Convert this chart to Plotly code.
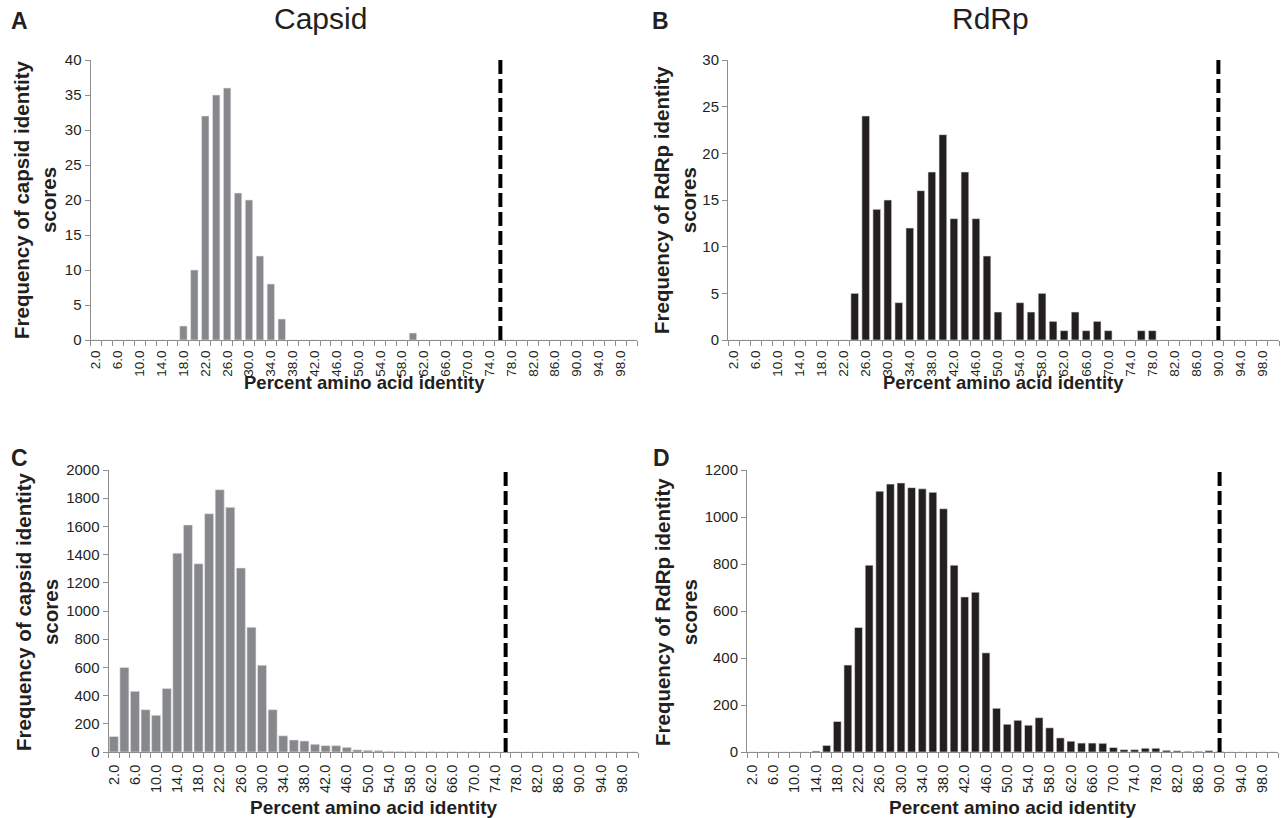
import plotly.graph_objects as go

# ---------------- data ----------------
identity_bins = [2.0, 4.0, 6.0, 8.0, 10.0, 12.0, 14.0, 16.0, 18.0, 20.0,
                 22.0, 24.0, 26.0, 28.0, 30.0, 32.0, 34.0, 36.0, 38.0, 40.0,
                 42.0, 44.0, 46.0, 48.0, 50.0, 52.0, 54.0, 56.0, 58.0, 60.0,
                 62.0, 64.0, 66.0, 68.0, 70.0, 72.0, 74.0, 76.0, 78.0, 80.0,
                 82.0, 84.0, 86.0, 88.0, 90.0, 92.0, 94.0, 96.0, 98.0, 100.0]

tick_labels = ["2.0", "6.0", "10.0", "14.0", "18.0", "22.0", "26.0", "30.0",
               "34.0", "38.0", "42.0", "46.0", "50.0", "54.0", "58.0", "62.0",
               "66.0", "70.0", "74.0", "78.0", "82.0", "86.0", "90.0", "94.0", "98.0"]
tick_values = [2, 6, 10, 14, 18, 22, 26, 30, 34, 38, 42, 46, 50, 54, 58, 62,
               66, 70, 74, 78, 82, 86, 90, 94, 98]

capsid_a = [0, 0, 0, 0, 0, 0, 0, 0, 2, 10,
            32, 35, 36, 21, 20, 12, 8, 3, 0, 0,
            0, 0, 0, 0, 0, 0, 0, 0, 0, 1,
            0, 0, 0, 0, 0, 0, 0, 0, 0, 0,
            0, 0, 0, 0, 0, 0, 0, 0, 0, 0]

rdrp_b = [0, 0, 0, 0, 0, 0, 0, 0, 0, 0,
          0, 5, 24, 14, 15, 4, 12, 16, 18, 22,
          13, 18, 13, 9, 3, 0, 4, 3, 5, 2,
          1, 3, 1, 2, 1, 0, 0, 1, 1, 0,
          0, 0, 0, 0, 0, 0, 0, 0, 0, 0]

capsid_c = [110, 600, 430, 300, 260, 450, 1410, 1610, 1335, 1690,
            1860, 1735, 1305, 885, 615, 300, 115, 85, 78, 55,
            45, 45, 33, 15, 12, 10, 5, 4, 3, 2,
            2, 1, 1, 1, 1, 0, 0, 0, 0, 0,
            0, 0, 0, 0, 0, 0, 0, 0, 0, 0]

rdrp_d = [0, 0, 0, 0, 0, 0, 4, 28, 130, 370,
          530, 795, 1110, 1140, 1145, 1125, 1120, 1105, 1035, 795,
          660, 680, 422, 186, 118, 135, 114, 146, 103, 60,
          46, 38, 38, 37, 19, 10, 10, 16, 16, 7,
          5, 3, 3, 6, 2, 0, 0, 0, 0, 0]

capsid_cutoff = 76.0
rdrp_cutoff = 90.0

# ---------------- style ----------------
W, H = 1281, 818
GRAY = "#87888b"
BLACK = "#231f20"
AXIS = "#8e8e8e"
TXT = "#231f20"
SANS = "Liberation Sans, Arial, Helvetica, sans-serif"


def px_x(v):
    return v / W


def px_y(v):
    return 1 - v / H


panels = [
    # (values, color, x0, x1, ytop, ybot, ymax, dtick, cutoff, bargap, xfont, xpad)
    (capsid_a, GRAY, 90.5, 637, 60, 340, 40, 5, capsid_cutoff, 0.32, 13.5, 4),
    (rdrp_b, BLACK, 728, 1279, 60, 340, 30, 5, rdrp_cutoff, 0.3, 13.5, 4),
    (capsid_c, GRAY, 108.5, 638, 470, 752, 2000, 200, capsid_cutoff, 0.15, 14.5, 6),
    (rdrp_d, BLACK, 747, 1278, 470, 752, 1200, 200, rdrp_cutoff, 0.26, 14.5, 6),
]

fig = go.Figure()
layout = {}
shapes = []
for i, (vals, color, x0, x1, yt, yb, ymax, dt, cut, gap, xfs, xpad) in enumerate(panels, start=1):
    sfx = "" if i == 1 else str(i)
    fig.add_trace(go.Bar(
        x=identity_bins, y=vals, width=2 * (1 - gap),
        marker=dict(color=color, line=dict(color="#e6e6e6", width=0.6)),
        xaxis="x" + sfx, yaxis="y" + sfx, showlegend=False,
        hovertemplate="%{x:.1f}: %{y}<extra></extra>",
    ))
    layout["xaxis" + sfx] = dict(
        domain=[px_x(x0), px_x(x1)], anchor="y" + sfx, automargin=False,
        range=[1, 101], tickmode="array", tickvals=tick_values, ticktext=tick_labels,
        tickangle=-90, ticks="outside", ticklen=xpad, tickcolor="rgba(0,0,0,0)",
        showline=True, linecolor=AXIS, linewidth=1,
        showgrid=False, zeroline=False,
        tickfont=dict(family=SANS, size=xfs, color=TXT),
        minor=dict(tickmode="linear", tick0=1, dtick=2, ticks="outside",
                   ticklen=5, tickcolor=AXIS, tickwidth=1, showgrid=False),
    )
    layout["yaxis" + sfx] = dict(
        domain=[px_y(yb), px_y(yt)], anchor="x" + sfx, automargin=False,
        range=[0, ymax], dtick=dt, tick0=0, ticks="outside", ticklen=5,
        tickcolor=AXIS, showline=True, linecolor=AXIS, linewidth=1,
        showgrid=False, zeroline=False,
        tickfont=dict(family=SANS, size=15, color=TXT),
    )
    shapes.append(dict(
        type="line", xref="x" + sfx, yref="y" + sfx,
        x0=cut, x1=cut, y0=0, y1=ymax * 1.01,
        line=dict(color="black", width=4, dash="14px,5px"),
    ))

annotations = []


def ann(text, x, y, size, bold=False, angle=0):
    annotations.append(dict(
        text=("<b>%s</b>" % text) if bold else text,
        x=px_x(x), y=px_y(y), xref="paper", yref="paper",
        showarrow=False, xanchor="center", yanchor="middle",
        textangle=angle, font=dict(family=SANS, size=size, color=TXT),
    ))


# panel letters and titles
ann("A", 19, 21, 23, bold=True)
ann("B", 660, 21, 23, bold=True)
ann("C", 19, 458, 23, bold=True)
ann("D", 661, 458, 23, bold=True)
ann("Capsid", 320, 19, 30)
ann("RdRp", 990, 19, 30)

# y-axis titles
ann("Frequency of capsid identity<br>scores", 35, 200, 20.5, bold=True, angle=-90)
ann("Frequency of RdRp identity<br>scores", 675, 200, 20.5, bold=True, angle=-90)
ann("Frequency of capsid identity<br>scores", 37, 612, 20.5, bold=True, angle=-90)
ann("Frequency of RdRp identity<br>scores", 676, 612, 20.5, bold=True, angle=-90)

# x-axis titles
ann("Percent amino acid identity", 364, 382, 18.5, bold=True)
ann("Percent amino acid identity", 1003, 382, 18.5, bold=True)
ann("Percent amino acid identity", 373, 807, 19, bold=True)
ann("Percent amino acid identity", 1012, 807, 19, bold=True)

fig.update_layout(
    template="none",
    width=W, height=H, margin=dict(l=0, r=0, t=0, b=0),
    paper_bgcolor="white", plot_bgcolor="white",
    shapes=shapes, annotations=annotations, **layout,
)

fig.write_html(
    "out.html",
    config={"displayModeBar": False},
    post_script="document.body.style.margin='0px';document.body.style.overflow='hidden';",
)
